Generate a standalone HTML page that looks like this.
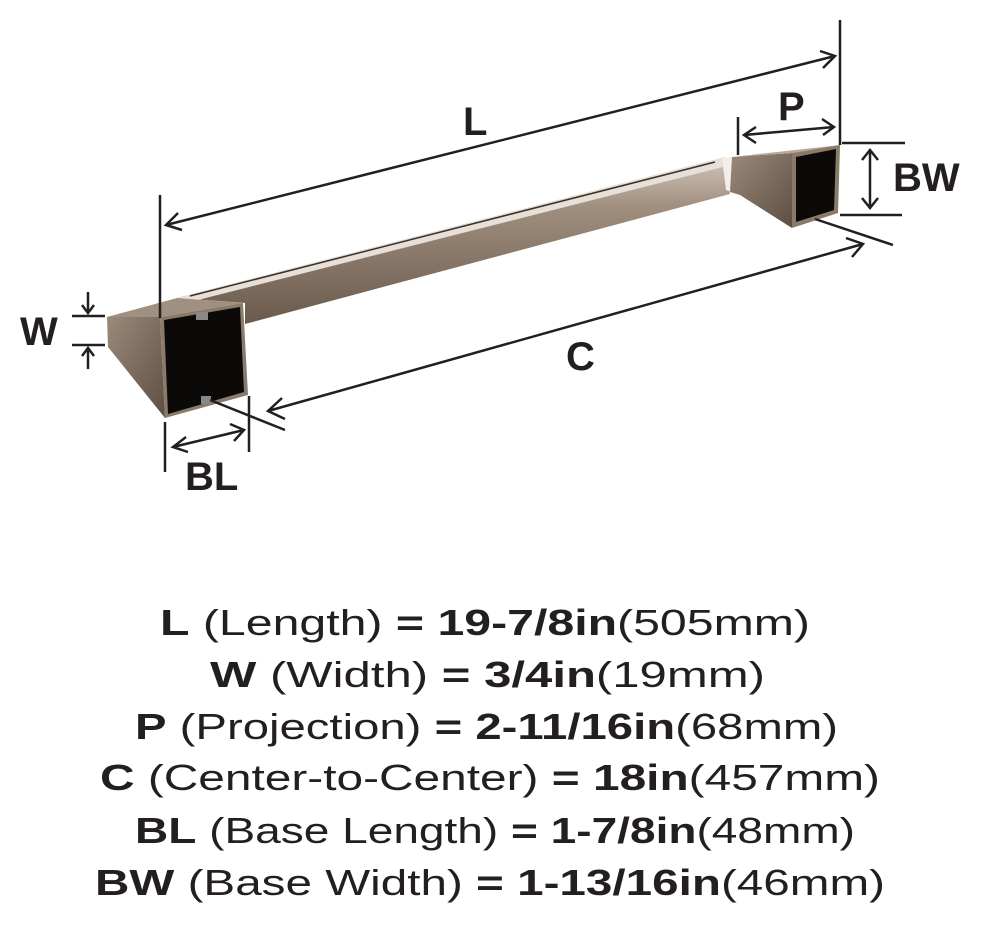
<!DOCTYPE html>
<html><head><meta charset="utf-8"><style>
html,body{margin:0;padding:0;background:#fff;}
svg{display:block;}
text{font-family:"Liberation Sans",sans-serif;fill:#231f20;}
</style></head><body>
<svg width="990" height="926" viewBox="0 0 990 926" xmlns="http://www.w3.org/2000/svg">
<defs>
<linearGradient id="bar" x1="0" y1="0" x2="0" y2="1">
<stop offset="0" stop-color="#d0c6ba"/><stop offset="0.3" stop-color="#a08e7e"/><stop offset="1" stop-color="#6a5a4c"/>
</linearGradient>
<linearGradient id="side" x1="0" y1="0" x2="1" y2="1">
<stop offset="0" stop-color="#9a8a7a"/><stop offset="1" stop-color="#5c4e42"/>
</linearGradient>
</defs>
<polygon points="177,298 725,157 730,194 245,324 245,303" fill="url(#bar)"/>
<polygon points="177,298 725,157 727,166 190,302" fill="#e6e0d8"/>
<line x1="190" y1="296" x2="715" y2="162" stroke="#3a3028" stroke-width="1.5"/>
<polygon points="722,158 732,157 732,192 726,190" fill="#f2eee8"/>
<polygon points="732,157 792,153 792,228 740,195 730,192" fill="url(#side)"/>
<polygon points="732,157 840,145 792,153" fill="#b8aa9a"/>
<polygon points="792,153 840,145 838,213 792,228" fill="#8a7a6a"/>
<polygon points="796,157 836,149 834,210 796,222" fill="#0c0a09"/>
<polygon points="107,317 160,317 165,418 108,347" fill="url(#side)"/>
<polygon points="107,317 177,298 243,303 160,317" fill="#a09080"/>
<polygon points="160,317 243,303 248,395 165,418" fill="#8a7a6a"/>
<polygon points="164,320 240,307 244,392 168,414" fill="#0c0a09"/>
<rect x="196" y="312" width="12" height="8" fill="#888"/>
<rect x="201" y="396" width="10" height="8" fill="#888"/>
<g stroke="#231f20" stroke-width="2.5" fill="none">
<line x1="160" y1="195" x2="160" y2="318"/>
<line x1="840" y1="20" x2="840" y2="145"/>
<line x1="166" y1="225" x2="835" y2="56"/>
<polyline points="178,213 166,225 182,230"/>
<polyline points="820,51 835,56 823,68"/>
<line x1="738" y1="117" x2="738" y2="155"/>
<line x1="744" y1="135" x2="834" y2="127"/>
<polyline points="756,127 744,135 756,143"/>
<polyline points="822,119 834,127 823,135"/>
<line x1="842" y1="143" x2="905" y2="143"/>
<line x1="840" y1="215" x2="902" y2="215"/>
<line x1="870" y1="150" x2="870" y2="208"/>
<polyline points="862,160 870,150 878,160"/>
<polyline points="862,198 870,208 878,198"/>
<line x1="815" y1="219" x2="893" y2="245"/>
<line x1="210" y1="400" x2="285" y2="430"/>
<line x1="249" y1="396" x2="249" y2="452"/>
<line x1="268" y1="411" x2="863" y2="244"/>
<polyline points="282,398 268,411 285,419"/>
<polyline points="846,238 863,244 852,257"/>
<line x1="165" y1="422" x2="165" y2="472"/>
<line x1="173" y1="447" x2="244" y2="430"/>
<polyline points="186,437 173,447 188,452"/>
<polyline points="230,424 244,430 234,441"/>
<line x1="72" y1="316" x2="105" y2="316"/>
<line x1="72" y1="345" x2="105" y2="345"/>
<line x1="88" y1="292" x2="88" y2="313"/>
<polyline points="82,305 88,313 94,305"/>
<line x1="88" y1="369" x2="88" y2="348"/>
<polyline points="82,356 88,348 94,356"/>
</g>
<g font-size="40" font-weight="bold">
<text x="463" y="135">L</text>
<text x="778" y="120">P</text>
<text x="893" y="191">BW</text>
<text x="566" y="370">C</text>
<text x="185" y="490">BL</text>
<text x="20" y="345">W</text>
</g>
<g font-size="36">
<text x="160" y="635" textLength="650" lengthAdjust="spacingAndGlyphs"><tspan font-weight="bold">L</tspan> (Length) <tspan font-weight="bold">= 19-7/8in</tspan>(505mm)</text>
<text x="210" y="687" textLength="555" lengthAdjust="spacingAndGlyphs"><tspan font-weight="bold">W</tspan> (Width) <tspan font-weight="bold">= 3/4in</tspan>(19mm)</text>
<text x="135" y="739" textLength="703" lengthAdjust="spacingAndGlyphs"><tspan font-weight="bold">P</tspan> (Projection) <tspan font-weight="bold">= 2-11/16in</tspan>(68mm)</text>
<text x="100" y="790" textLength="780" lengthAdjust="spacingAndGlyphs"><tspan font-weight="bold">C</tspan> (Center-to-Center) <tspan font-weight="bold">= 18in</tspan>(457mm)</text>
<text x="135" y="843" textLength="720" lengthAdjust="spacingAndGlyphs"><tspan font-weight="bold">BL</tspan> (Base Length) <tspan font-weight="bold">= 1-7/8in</tspan>(48mm)</text>
<text x="95" y="895" textLength="790" lengthAdjust="spacingAndGlyphs"><tspan font-weight="bold">BW</tspan> (Base Width) <tspan font-weight="bold">= 1-13/16in</tspan>(46mm)</text>
</g>
</svg>
</body></html>
